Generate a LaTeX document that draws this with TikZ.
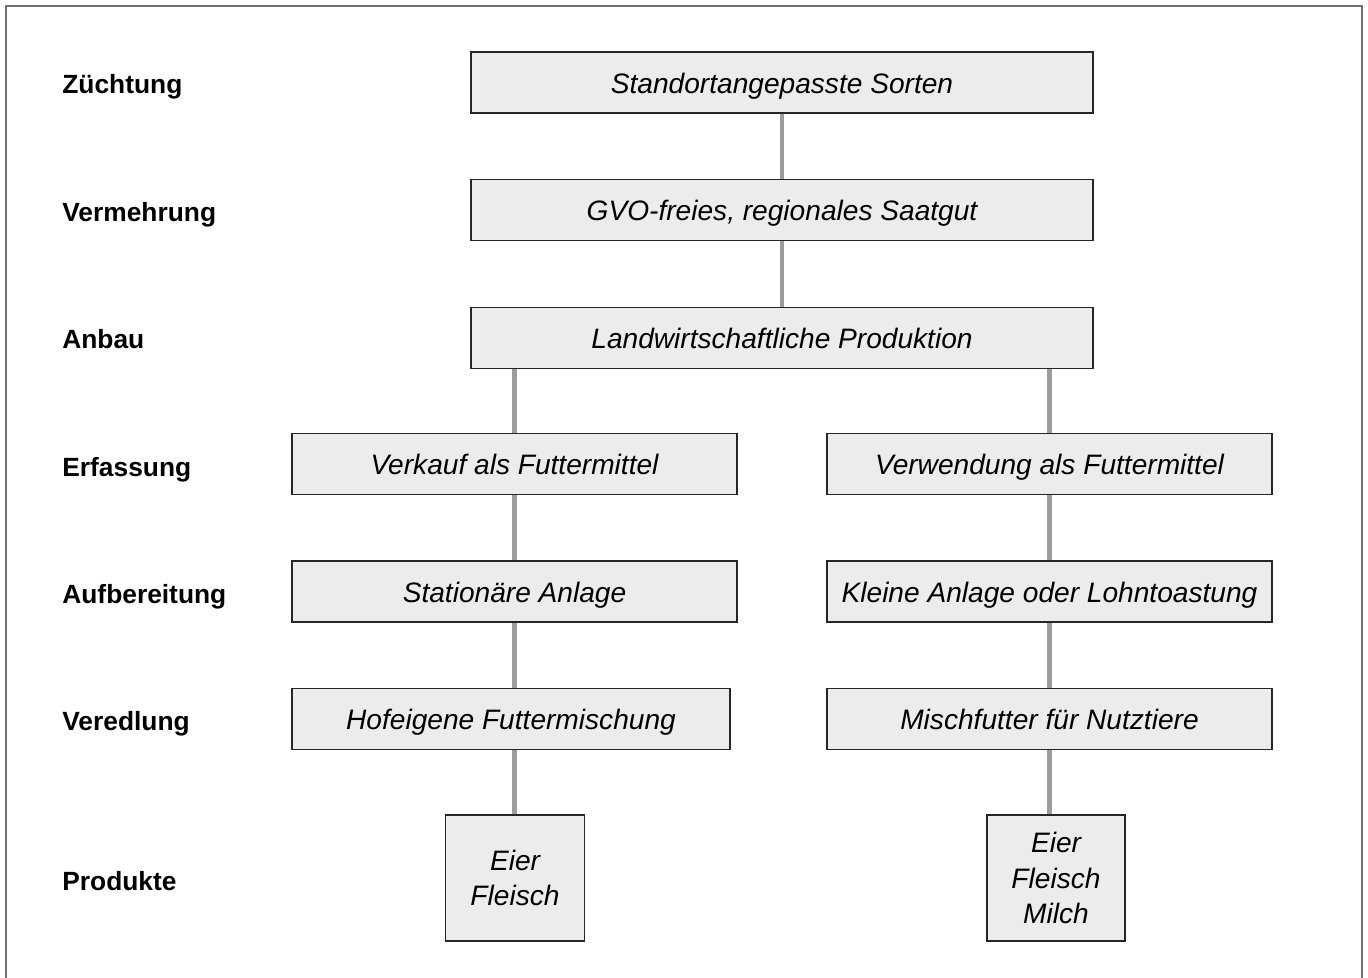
\documentclass[tikz,border=0pt]{standalone}
\usepackage{fontspec}
\setmainfont{Liberation Sans}
\definecolor{boxfill}{HTML}{ECECEC}
\definecolor{linkgray}{HTML}{9B9BA0}
\definecolor{framegray}{HTML}{707070}
\begin{document}
\begin{tikzpicture}[
  x=0.02cm, y=-0.02cm,
  stage/.style={draw=black!85, line width=0.8pt, fill=boxfill, inner sep=0pt,
                minimum height=1.22cm, text height=15.5pt, text depth=3pt,
                font=\fontsize{16}{20}\selectfont\itshape},
  product/.style={stage, align=center, text height=, text depth=},
  level/.style={anchor=base west, inner sep=0pt, font=\fontsize{15}{18}\selectfont\bfseries},
  link/.style={draw=linkgray, line width=2.3pt}
]
\useasboundingbox (0,0) rectangle (1368,977);
\draw[framegray, line width=1.1pt] (6,980) -- (6,6) -- (1362,6) -- (1362,980);

\node[level] (lzucht) at (62, 93)  {Züchtung};
\node[level] (lverm)  at (62, 221) {Vermehrung};
\node[level] (lanbau) at (62, 348) {Anbau};
\node[level] (lerf)   at (62, 476) {Erfassung};
\node[level] (laufb)  at (62, 603) {Aufbereitung};
\node[level] (lvered) at (62, 730) {Veredlung};
\node[level] (lprod)  at (62, 890) {Produkte};

\node[stage, minimum width=12.44cm] (zucht) at (782, 82.5) {Standortangepasste Sorten};
\node[stage, minimum width=12.44cm] (verm)  at (782, 210)  {GVO-freies, regionales Saatgut};
\node[stage, minimum width=12.44cm] (anbau) at (782, 338)  {Landwirtschaftliche Produktion};

\node[stage, minimum width=8.9cm]  (erfL)   at (514.5, 464)   {Verkauf als Futtermittel};
\node[stage, minimum width=8.9cm]  (aufbL)  at (514.5, 591.5) {Stationäre Anlage};
\node[stage, minimum width=8.76cm] (veredL) at (511, 719)     {Hofeigene Futtermischung};
\node[product, minimum width=2.78cm, minimum height=2.52cm] (prodL) at (515, 878) {Eier\\Fleisch};

\node[stage, minimum width=8.9cm]  (erfR)   at (1049.5, 464)   {Verwendung als Futtermittel};
\node[stage, minimum width=8.9cm]  (aufbR)  at (1049.5, 591.5) {Kleine Anlage oder Lohntoastung};
\node[stage, minimum width=8.9cm]  (veredR) at (1049.5, 719)   {Mischfutter für Nutztiere};
\node[product, minimum width=2.76cm, minimum height=2.52cm] (prodR) at (1056, 878) {Eier\\Fleisch\\Milch};

\draw[link] (zucht.south) -- (verm.north);
\draw[link] (verm.south) -- (anbau.north);
\draw[link] (anbau.south -| erfL.north) -- (erfL.north);
\draw[link] (anbau.south -| erfR.north) -- (erfR.north);
\draw[link] (erfL.south) -- (aufbL.north);
\draw[link] (aufbL.south) -- (aufbL.south |- veredL.north);
\draw[link] (aufbL.south |- veredL.south) -- (aufbL.south |- prodL.north);
\draw[link] (erfR.south) -- (aufbR.north);
\draw[link] (aufbR.south) -- (veredR.north);
\draw[link] (veredR.south) -- (veredR.south |- prodR.north);
\end{tikzpicture}
\end{document}
